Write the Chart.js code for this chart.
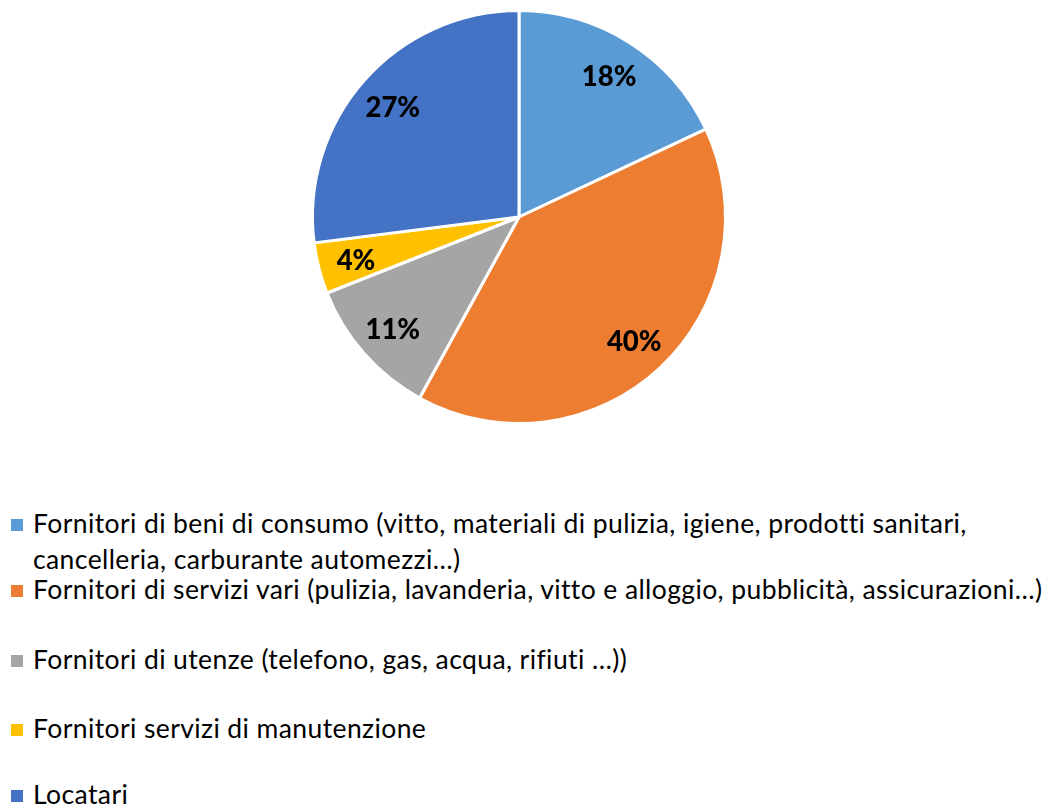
<!DOCTYPE html>
<html lang="it">
<head>
<meta charset="utf-8">
<title>Ripartizione fornitori</title>
<script src="https://cdn.jsdelivr.net/npm/chart.js@4.4.1/dist/chart.umd.min.js"></script>
<style>
  html, body { margin: 0; padding: 0; background: #ffffff; }
  body { width: 1048px; height: 807px; position: relative; overflow: hidden;
         font-family: Lato, "Open Sans", sans-serif; font-variant-ligatures: none; }
  #pieBox { position: absolute; left: 0; top: 0; width: 1048px; height: 440px; }
  #legend { position: absolute; left: 0; top: 0; width: 1048px; }
  .item { position: absolute; left: 0; white-space: nowrap; color: #000;
          font-size: 26.5px; line-height: 36px; letter-spacing: 0.4px; }
  .swatch { position: absolute; left: 11px; width: 12px; height: 12px; }
  .text { position: absolute; left: 33px; top: 0; }
</style>
</head>
<body>
<div id="pieBox"><canvas id="pie"></canvas></div>
<div id="legend"></div>
<script>
// Categories (each entry is a list of legend lines)
const categories = [
  ["Fornitori di beni di consumo (vitto, materiali di pulizia, igiene, prodotti sanitari,",
   "cancelleria, carburante automezzi…)"],
  ["Fornitori di servizi vari (pulizia, lavanderia, vitto e alloggio, pubblicità, assicurazioni…)"],
  ["Fornitori di utenze (telefono, gas, acqua, rifiuti …))"],
  ["Fornitori servizi di manutenzione"],
  ["Locatari"]
];
// Share of each category, in percent
const shares = [18, 40, 11, 4, 27];
const sliceColors = ["#5B9BD5", "#ED7D31", "#A5A5A5", "#FFC000", "#4472C4"];

// Percentage labels placed inside each slice
const sliceLabels = {
  id: "sliceLabels",
  afterDatasetsDraw(chart) {
    const ctx = chart.ctx;
    const meta = chart.getDatasetMeta(0);
    const data = chart.data.datasets[0].data;
    ctx.save();
    ctx.font = "900 27.5px Lato, 'Open Sans', sans-serif";
    ctx.fillStyle = "#000";
    ctx.textAlign = "center";
    ctx.textBaseline = "middle";
    meta.data.forEach((arc, i) => {
      const p = arc.getProps(["x", "y", "startAngle", "endAngle", "outerRadius"], true);
      const mid = (p.startAngle + p.endAngle) / 2;
      const r = p.outerRadius * 0.815;
      ctx.fillText(data[i] + "%", p.x + Math.cos(mid) * r, p.y + Math.sin(mid) * r + 2);
    });
    ctx.restore();
  }
};

const chart = new Chart(document.getElementById("pie"), {
  type: "pie",
  data: {
    labels: categories,
    datasets: [{
      data: shares,
      backgroundColor: sliceColors,
      borderColor: "#ffffff",
      borderWidth: 3
    }]
  },
  options: {
    responsive: true,
    maintainAspectRatio: false,
    animation: false,
    layout: { padding: { left: 311, right: 321, top: 9, bottom: 15 } },
    plugins: {
      legend: { display: false },
      tooltip: { enabled: false }
    }
  },
  plugins: [sliceLabels]
});

// Legend built from the chart's own labels and colours
const legendTops = [505, 571, 641, 710, 776];
const legend = document.getElementById("legend");
chart.data.labels.forEach((lines, i) => {
  const item = document.createElement("div");
  item.className = "item";
  item.style.top = legendTops[i] + "px";
  const sw = document.createElement("span");
  sw.className = "swatch";
  sw.style.top = "14px";
  sw.style.background = chart.data.datasets[0].backgroundColor[i];
  const tx = document.createElement("span");
  tx.className = "text";
  tx.innerHTML = lines.map(l => l.replace(/&/g, "&amp;").replace(/</g, "&lt;")).join("<br>");
  item.appendChild(sw);
  item.appendChild(tx);
  legend.appendChild(item);
});
</script>
</body>
</html>
